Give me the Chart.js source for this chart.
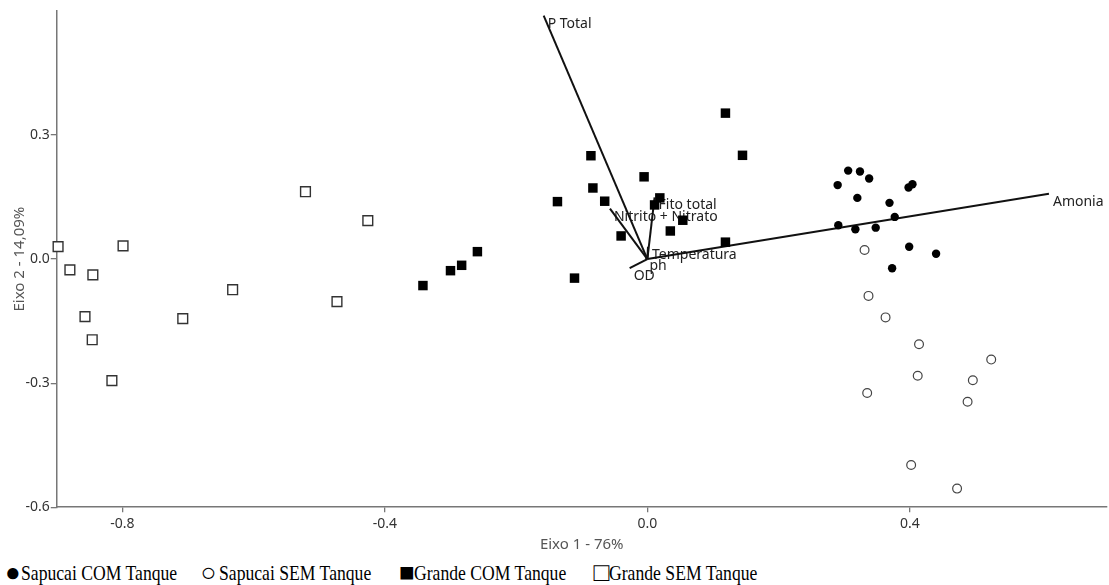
<!DOCTYPE html>
<html><head><meta charset="utf-8">
<script src="https://cdn.jsdelivr.net/npm/chart.js@4.4.1/dist/chart.umd.min.js"></script>
<style>
html,body{margin:0;padding:0;background:#fff;overflow:hidden;width:1109px;height:585px}
#wrap{position:relative;width:1109px;height:585px;overflow:hidden}
#c{position:absolute;left:0;top:0}
.lg-g{position:absolute;top:560px;height:26px;line-height:26px;font-size:26px;white-space:pre;
      font-family:'Liberation Serif','Times New Roman',serif;color:#000}
.lg-t{position:absolute;top:562.5px;height:21px;line-height:21px;font-size:21px;white-space:pre;
      font-family:'Liberation Serif','Times New Roman',serif;color:#000;
      transform:scaleX(0.84);transform-origin:0 50%}
</style>
</head><body><div id="wrap"><canvas id="c" width="1115" height="554"></canvas><div id="legend"></div></div>
<script>
// ---- data ----
const seriesNames = ['Sapucai COM Tanque', 'Sapucai SEM Tanque', 'Grande COM Tanque', 'Grande SEM Tanque'];
const legendGlyphs = ['\u25CF', '\u25CB', '\u25A0', '\u25A1'];

const sapucaiComX = [0.306, 0.324, 0.338, 0.290, 0.320, 0.369, 0.398, 0.404, 0.377, 0.291, 0.317, 0.348, 0.399, 0.440, 0.373];
const sapucaiComY = [0.214, 0.212, 0.195, 0.179, 0.148, 0.136, 0.173, 0.181, 0.102, 0.082, 0.072, 0.076, 0.030, 0.013, -0.022];

const sapucaiSemX = [0.331, 0.337, 0.363, 0.414, 0.524, 0.412, 0.496, 0.335, 0.488, 0.402, 0.472];
const sapucaiSemY = [0.022, -0.089, -0.141, -0.206, -0.243, -0.282, -0.293, -0.324, -0.345, -0.498, -0.555];

const grandeComX = [-0.342, -0.300, -0.283, -0.259, -0.137, -0.111, -0.086, -0.083, -0.065, -0.040, -0.005, 0.011, 0.019, 0.035, 0.054, 0.119, 0.145, 0.119];
const grandeComY = [-0.064, -0.028, -0.015, 0.018, 0.139, -0.046, 0.250, 0.172, 0.140, 0.056, 0.199, 0.131, 0.148, 0.068, 0.094, 0.353, 0.251, 0.041];

const grandeSemX = [-0.898, -0.880, -0.845, -0.857, -0.846, -0.816, -0.799, -0.708, -0.632, -0.521, -0.473, -0.426];
const grandeSemY = [0.030, -0.026, -0.038, -0.139, -0.195, -0.294, 0.032, -0.144, -0.074, 0.163, -0.103, 0.093];

const vectorNames = ['P Total', 'Amonia', 'Nitrito + Nitrato', 'Fito total', 'Temperatura', 'ph', 'OD'];
const vectorX = [-0.158, 0.612, -0.057, 0.011, 0.001, -0.003, -0.027];
const vectorY = [0.589, 0.158, 0.122, 0.149, 0.030, 0.002, -0.022];

const xTicks = [-0.8, -0.4, 0.0, 0.4];
const yTicks = [-0.6, -0.3, 0.0, 0.3];
const xTitle = 'Eixo 1 - 76%';
const yTitle = 'Eixo 2 - 14,09%';

// ---- legend (HTML text), layout constants ----
const legendGlyphLeft = [5, 200.5, 399, 593.5];
const legendTextLeft = [21, 219, 414, 609];
const legendEl = document.getElementById('legend');
seriesNames.forEach((n, i) => {
  const g = document.createElement('div');
  g.className = 'lg-g';
  g.style.left = legendGlyphLeft[i] + 'px';
  g.textContent = legendGlyphs[i];
  legendEl.appendChild(g);
  const t = document.createElement('div');
  t.className = 'lg-t';
  t.style.left = legendTextLeft[i] + 'px';
  t.textContent = n;
  legendEl.appendChild(t);
});

// ---- chart ----
const pts = (xs, ys) => xs.map((v, i) => ({x: v, y: ys[i]}));
const scatterSets = [
  {label: seriesNames[0], data: pts(sapucaiComX, sapucaiComY), pointStyle: 'circle', pointRadius: 4.2,
   backgroundColor: '#000', borderColor: '#000', borderWidth: 0, order: 0, clip: false},
  {label: seriesNames[1], data: pts(sapucaiSemX, sapucaiSemY), pointStyle: 'circle', pointRadius: 4.4,
   backgroundColor: '#fff', borderColor: '#444', borderWidth: 1.2, order: 0, clip: false},
  {label: seriesNames[2], data: pts(grandeComX, grandeComY), pointStyle: 'rect', pointRadius: 6.7,
   backgroundColor: '#000', borderColor: '#000', borderWidth: 0, order: 0, clip: false},
  {label: seriesNames[3], data: pts(grandeSemX, grandeSemY), pointStyle: 'rect', pointRadius: 6.9,
   backgroundColor: '#fff', borderColor: '#333', borderWidth: 1.4, order: 0, clip: false}
];
const vectorSets = vectorNames.map((n, i) => ({
  label: n, data: [{x: 0, y: 0}, {x: vectorX[i], y: vectorY[i]}],
  showLine: true, pointRadius: 0, borderColor: '#111', borderWidth: 2, order: 1, clip: false
}));

const vectorLabelPlugin = {
  id: 'vectorLabels',
  beforeDatasetsDraw(chart) {
    const {ctx, scales: {x, y}} = chart;
    ctx.save();
    ctx.font = "14px 'Noto Sans'";
    ctx.fillStyle = '#222';
    ctx.textAlign = 'left';
    ctx.textBaseline = 'middle';
    vectorNames.forEach((n, i) => {
      ctx.fillText(n, x.getPixelForValue(vectorX[i]) + 4, y.getPixelForValue(vectorY[i]) + 8);
    });
    ctx.restore();
  }
};

const tickFont = {family: "'Noto Sans'", size: 14};
const titleFont = {family: "'Noto Sans'", size: 15, lineHeight: 1};
const border = {display: true, color: '#777', width: 1.5};

new Chart(document.getElementById('c'), {
  type: 'scatter',
  data: {datasets: [...scatterSets, ...vectorSets]},
  plugins: [vectorLabelPlugin],
  options: {
    responsive: false, animation: false, devicePixelRatio: 1, events: [],
    layout: {padding: {top: 11, right: 0, left: 0, bottom: 0}},
    plugins: {tooltip: {enabled: false}, legend: {display: false}},
    scales: {
      x: {
        type: 'linear', min: -0.9, max: 0.7, border,
        grid: {drawOnChartArea: false, drawTicks: true, tickLength: 5, color: '#777', lineWidth: 1.3},
        afterBuildTicks: ax => { ax.ticks = xTicks.map(v => ({value: v})); },
        ticks: {padding: 3, color: '#333', font: tickFont, callback: v => Number(v).toFixed(1)},
        title: {display: true, text: xTitle, color: '#555', font: {...titleFont, lineHeight: 1.2},
                padding: {top: 1, bottom: 0}}
      },
      y: {
        type: 'linear', min: -0.6, max: 0.6, border,
        grid: {drawOnChartArea: false, drawTicks: true, tickLength: 6, color: '#777', lineWidth: 1.3},
        afterBuildTicks: ax => { ax.ticks = yTicks.map(v => ({value: v})); },
        ticks: {padding: 1, color: '#333', font: tickFont, callback: v => Number(v).toFixed(1)},
        title: {display: true, text: yTitle, color: '#555', font: titleFont,
                padding: {top: 12.5, bottom: -3}}
      }
    }
  }
});
</script>
</body></html>
